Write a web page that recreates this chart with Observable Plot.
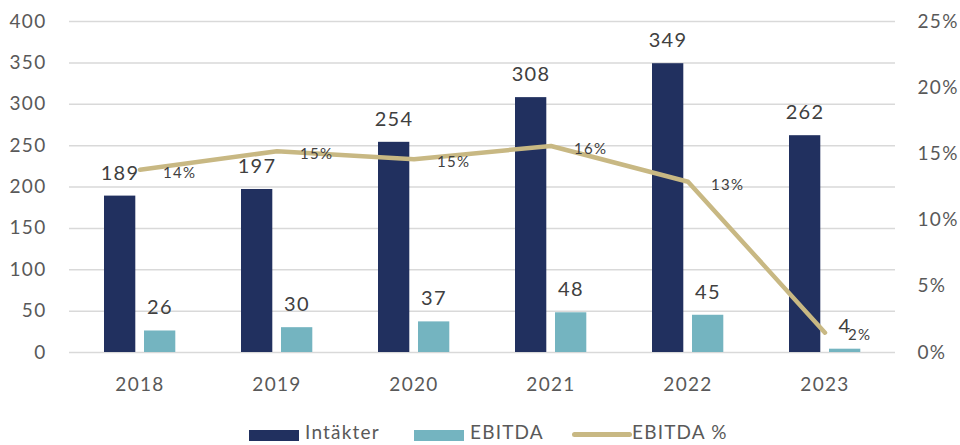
<!DOCTYPE html>
<html><head><meta charset="utf-8">
<script src="https://cdn.jsdelivr.net/npm/d3@7"></script>
<script src="https://cdn.jsdelivr.net/npm/@observablehq/plot@0.6"></script>
<style>
html,body{margin:0;background:#fff;font-family:Lato,"Open Sans",sans-serif;overflow:hidden;}
#legend{position:relative;height:26px;margin-top:14px;font-size:19px;line-height:26px;letter-spacing:1.2px;color:#595959;}
.item{position:absolute;top:0;display:flex;align-items:center;height:26px;}
.sw{width:50px;height:11px;margin-right:6px;position:relative;top:3px;}
.ln{width:60px;height:5px;border-radius:3px;margin-right:0px;position:relative;top:2px;}
svg text{letter-spacing:1.3px;}
</style></head><body>
<div id="chart"></div>
<div id="legend"></div>
<script>
const years = ["2018","2019","2020","2021","2022","2023"];
const revenue = [189,197,254,308,349,262];
const ebitda = [26,30,37,48,45,4];
const ebitdaPct = [13.8,15.2,14.6,15.6,12.9,1.5];
const leftTicks = [0,50,100,150,200,250,300,350,400];
const rightTicks = [0,5,10,15,20,25];
const labelPct = ["14%","15%","15%","16%","13%","2%"];
const legendLabels = ["Intäkter","EBITDA","EBITDA %"];

const navy = "#21305f", teal = "#74b4c0", khaki = "#c8b883";
const data = years.map((y,i)=>({year:y, rev:revenue[i], eb:ebitda[i], pct:ebitdaPct[i], pl:labelPct[i]}));
const k = 400/25;

const chart = Plot.plot({
  width:960, height:405,
  marginTop:21, marginBottom:53, marginLeft:69, marginRight:65,
  style:{fontFamily:"Lato, 'Open Sans', sans-serif", fontSize:"19px", color:"#595959"},
  x:{domain:years, padding:0, label:null},
  y:{domain:[0,400], label:null},
  marks:[
    Plot.gridY(leftTicks,{stroke:"#d9d9d9", strokeOpacity:1, strokeWidth:1.5}),
    Plot.axisY({ticks:leftTicks, tickSize:0, tickPadding:23, label:null, fontSize:19}),
    Plot.axisY({anchor:"right", ticks:rightTicks.map(d=>d*k), tickFormat:d=>(d/k)+"%", tickSize:0, tickPadding:22, label:null, fontSize:19}),
    Plot.axisX({tickSize:0, tickPadding:25, label:null, fontSize:19}),
    Plot.barY(data,{x:"year", y:"rev", fill:navy, insetLeft:33, insetRight:72.7}),
    Plot.barY(data,{x:"year", y:"eb", fill:teal, insetLeft:73, insetRight:32.7}),
    Plot.line(data,{x:"year", y:d=>d.pct*k, stroke:khaki, strokeWidth:4.5, strokeLinecap:"round", strokeLinejoin:"round"}),
    Plot.text(data,{x:"year", y:"rev", text:d=>String(d.rev), dx:-20, dy:-23, fontSize:20, fill:"#404040"}),
    Plot.text(data,{x:"year", y:"eb", text:d=>String(d.eb), dx:20, dy:-23, fontSize:20, fill:"#404040"}),
    Plot.text(data,{x:"year", y:d=>d.pct*k, text:"pl", dx:23, dy:3, textAnchor:"start", fontSize:15, fill:"#404040"})
  ]
});
document.getElementById("chart").appendChild(chart);

const legend = document.getElementById("legend");
const lefts = [249, 414, 572];
legend.innerHTML =
 `<div class="item" style="left:${lefts[0]}px"><div class="sw" style="background:${navy}"></div>${legendLabels[0]}</div>`+
 `<div class="item" style="left:${lefts[1]}px"><div class="sw" style="background:${teal}"></div>${legendLabels[1]}</div>`+
 `<div class="item" style="left:${lefts[2]}px"><div class="ln" style="background:${khaki}"></div>${legendLabels[2]}</div>`;
</script>
</body></html>
